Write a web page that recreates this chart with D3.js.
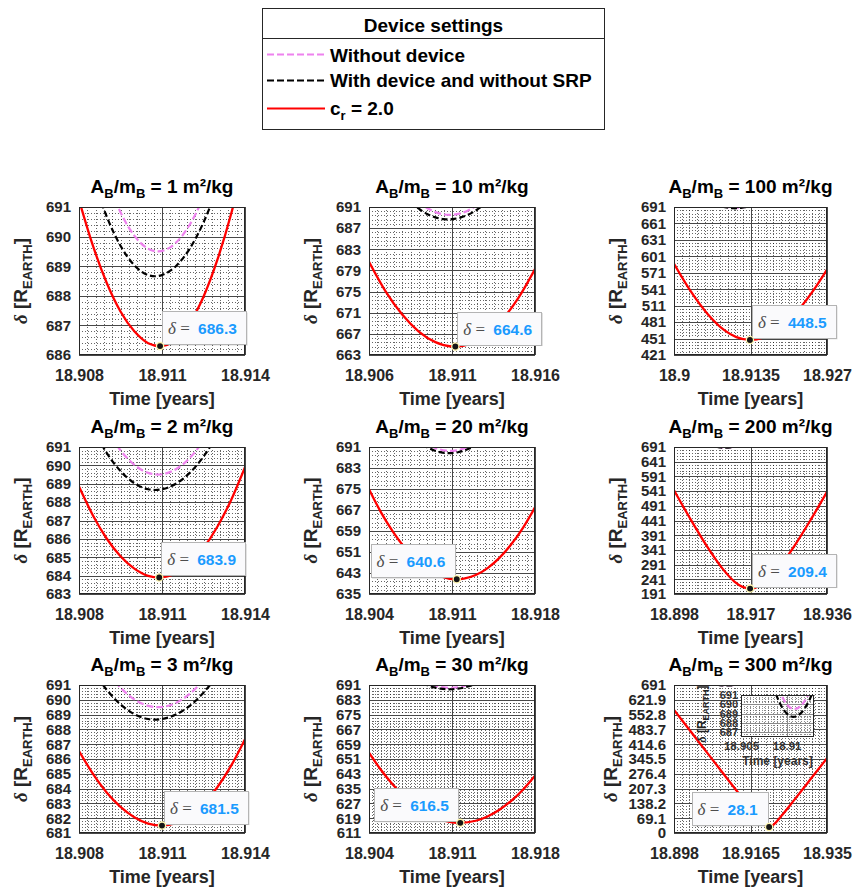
<!DOCTYPE html>
<html><head><meta charset="utf-8">
<script src="https://cdn.jsdelivr.net/npm/d3@7"></script>
<style>
html,body{margin:0;padding:0;background:#fff;}
svg{display:block;font-family:"Liberation Sans",Arial,Helvetica,sans-serif;}
text{white-space:pre;}
</style></head><body>
<svg id="chart" width="854" height="888"></svg>
<script>
// ---------------- DATA ----------------
const ratios = [1, 10, 100, 2, 20, 200, 3, 30, 300];
const seriesNames = ["Without device", "With device and without SRP", "c_r = 2.0"];

const xTicks = [
  [18.908, 18.911, 18.914],
  [18.906, 18.911, 18.916],
  [18.9, 18.9135, 18.927],
  [18.908, 18.911, 18.914],
  [18.904, 18.911, 18.918],
  [18.898, 18.917, 18.936],
  [18.908, 18.911, 18.914],
  [18.904, 18.911, 18.918],
  [18.898, 18.9165, 18.935]
];
const yTicks = [
  [686, 687, 688, 689, 690, 691],
  [663, 667, 671, 675, 679, 683, 687, 691],
  [421, 451, 481, 511, 541, 571, 601, 631, 661, 691],
  [683, 684, 685, 686, 687, 688, 689, 690, 691],
  [635, 643, 651, 659, 667, 675, 683, 691],
  [191, 241, 291, 341, 391, 441, 491, 541, 591, 641, 691],
  [681, 682, 683, 684, 685, 686, 687, 688, 689, 690, 691],
  [611, 619, 627, 635, 643, 651, 659, 667, 675, 683, 691],
  [0, 69.1, 138.2, 207.3, 276.4, 345.5, 414.6, 483.7, 552.8, 621.9, 691]
];

// "Without device" (same trajectory in every panel)
const noDeviceTimes  = [18.9085, 18.909, 18.9095, 18.910, 18.9105, 18.91086, 18.9115, 18.912, 18.9125, 18.913];
const noDeviceValues = [693.49, 691.97, 690.82, 690.03, 689.59, 689.50, 689.79, 690.40, 691.35, 692.65];
// "With device and without SRP"
const noSrpTimes  = [18.9085, 18.909, 18.9095, 18.910, 18.9105, 18.91075, 18.911, 18.9115, 18.912, 18.9125, 18.913, 18.9135];
const noSrpValues = [692.01, 690.68, 689.69, 689.03, 688.70, 688.66, 688.70, 689.00, 689.59, 690.48, 691.67, 693.15];

// c_r = 2.0 curves, one per panel
const srpTimes = [
  [18.908, 18.9085, 18.909, 18.9095, 18.910, 18.9105, 18.91093, 18.9115, 18.912, 18.9125, 18.913, 18.9135, 18.914],
  [18.906, 18.907, 18.908, 18.909, 18.910, 18.9105, 18.9112, 18.912, 18.913, 18.914, 18.915, 18.916],
  [18.900, 18.903, 18.906, 18.909, 18.911, 18.9134, 18.916, 18.919, 18.922, 18.925, 18.927],
  [18.908, 18.9085, 18.909, 18.9095, 18.910, 18.9105, 18.9109, 18.9115, 18.912, 18.9125, 18.913, 18.9135, 18.914],
  [18.904, 18.905, 18.906, 18.907, 18.908, 18.909, 18.910, 18.9114, 18.912, 18.913, 18.914, 18.915, 18.916, 18.917, 18.918],
  [18.898, 18.902, 18.906, 18.910, 18.913, 18.915, 18.9169, 18.919, 18.921, 18.924, 18.928, 18.932, 18.936],
  [18.908, 18.9085, 18.909, 18.9095, 18.910, 18.9105, 18.911, 18.9115, 18.912, 18.9125, 18.913, 18.9135, 18.914],
  [18.904, 18.905, 18.906, 18.907, 18.908, 18.909, 18.910, 18.911, 18.9117, 18.913, 18.914, 18.915, 18.916, 18.917, 18.918],
  [18.898, 18.902, 18.906, 18.910, 18.914, 18.917, 18.919, 18.920, 18.921, 18.922, 18.924, 18.927, 18.931, 18.935]
];
const srpValues = [
  [691.24, 689.70, 688.44, 687.47, 686.80, 686.40, 686.30, 686.52, 687.08, 687.97, 689.21, 690.77, 692.67],
  [680.65, 675.05, 670.65, 667.44, 665.43, 664.88, 664.60, 665.02, 666.69, 669.62, 673.80, 679.26],
  [587.6, 536.6, 495.1, 465.5, 453.6, 448.5, 453.8, 472.7, 503.7, 544.7, 576.6],
  [688.85, 687.29, 686.02, 685.05, 684.38, 683.99, 683.90, 684.13, 684.65, 685.50, 686.66, 688.12, 689.90],
  [674.9, 666.2, 658.87, 652.7, 647.84, 644.2, 641.83, 640.6, 640.83, 642.21, 644.87, 648.75, 653.93, 660.3, 668.0],
  [544.0, 447.7, 357.1, 278.1, 233.4, 215.3, 209.4, 216.5, 235.1, 279.2, 356.4, 444.6, 538.3],
  [686.54, 685.01, 683.74, 682.77, 682.07, 681.64, 681.50, 681.66, 682.14, 682.95, 684.09, 685.55, 687.34],
  [654.4, 645.16, 637.24, 630.56, 625.21, 621.1, 618.31, 616.79, 616.5, 617.62, 619.95, 623.53, 628.42, 634.54, 642.0],
  [574.5, 474.8, 375.2, 275.5, 176.4, 103.1, 56.7, 37.1, 28.1, 38.0, 80.3, 152.3, 250.6, 349.4]
];
// data tips (minimum of the c_r = 2.0 curve)
const minTimes  = [18.91093, 18.9112, 18.9134, 18.9109, 18.9114, 18.9169, 18.911, 18.9117, 18.921];
const minValues = [686.3, 664.6, 448.5, 683.9, 640.6, 209.4, 681.5, 616.5, 28.1];

// inset of the 300 m²/kg panel
const insetXTicks = [18.905, 18.91];
const insetYTicks = [687, 688, 689, 690, 691];

// ---------------- LAYOUT / STYLE ----------------
const colX = [[79, 245], [369, 535], [674, 827]];
const rowY = [[207, 355], [447, 594], [685, 833]];
const tipSide = ["tr", "tr", "tr", "tr", "tl", "tr", "tr", "tl", "tl"];
const minorXDiv = [10, 10, 10, 10, 10, 10, 10, 20, 10];
const RED = "#ff0000", PINK = "#ee82ee", BLK = "#000000";
const TXT = "#262626";

const svg = d3.select("#chart");
const defs = svg.append("defs");

function minorTicks(t0, majorStep, div, lo, hi) {
  const s = majorStep / div, out = [];
  const kmin = Math.ceil((lo - t0) / s - 1e-6), kmax = Math.floor((hi - t0) / s + 1e-6);
  for (let k = kmin; k <= kmax; k++) {
    if (((k % div) + div) % div !== 0) out.push(t0 + k * s);
  }
  return out;
}
const crisp = v => Math.round(v) + 0.5;

function drawGrid(g, x, y, xt, yt, xDiv, yDiv, majorColor, minorOpacity) {
  const [xa, xb] = x.domain(), [ya, yb] = y.domain();
  const [px0, px1] = x.range(), [py1, py0] = y.range();
  const gm = g.append("g").attr("shape-rendering", "crispEdges");
  minorTicks(yt[0], yt[1] - yt[0], yDiv, ya, yb).forEach(v => {
    gm.append("line").attr("x1", px0).attr("x2", px1).attr("y1", crisp(y(v))).attr("y2", crisp(y(v)))
      .attr("stroke", "#000").attr("stroke-opacity", minorOpacity).attr("stroke-dasharray", "1,2");
  });
  minorTicks(xt[0], xt[1] - xt[0], xDiv, xa, xb).forEach(v => {
    gm.append("line").attr("y1", py0).attr("y2", py1).attr("x1", crisp(x(v))).attr("x2", crisp(x(v)))
      .attr("stroke", "#000").attr("stroke-opacity", minorOpacity).attr("stroke-dasharray", "1,2");
  });
  yt.forEach(v => {
    gm.append("line").attr("x1", px0).attr("x2", px1).attr("y1", crisp(y(v))).attr("y2", crisp(y(v)))
      .attr("stroke", majorColor);
  });
  xt.forEach(v => {
    gm.append("line").attr("y1", py0).attr("y2", py1).attr("x1", crisp(x(v))).attr("x2", crisp(x(v)))
      .attr("stroke", majorColor);
  });
}

function lineFor(x, y) {
  return d3.line().x(d => x(d[0])).y(d => y(d[1])).curve(d3.curveMonotoneX);
}

function yLabel(g, cx, cy, size, subSize, shift) {
  const t = g.append("text").attr("transform", `translate(${cx},${cy}) rotate(-90)`)
    .attr("text-anchor", "middle").attr("font-size", size).attr("font-weight", "bold").attr("fill", TXT);
  t.append("tspan").attr("font-family", '"Liberation Serif",serif').attr("font-style", "italic").text("δ");
  t.append("tspan").text(" [R");
  t.append("tspan").attr("font-size", subSize).attr("dy", shift).text("EARTH");
  t.append("tspan").attr("dy", -shift).text("]");
}

ratios.forEach((ratio, i) => {
  const col = i % 3, row = Math.floor(i / 3);
  const [x0, x1] = colX[col], [y0, y1] = rowY[row];
  const xt = xTicks[i], yt = yTicks[i];
  const x = d3.scaleLinear().domain([xt[0], xt[xt.length - 1]]).range([x0, x1]);
  const y = d3.scaleLinear().domain([yt[0], yt[yt.length - 1]]).range([y1, y0]);
  const g = svg.append("g");

  defs.append("clipPath").attr("id", "clip" + i).append("rect")
    .attr("x", x0).attr("y", y0).attr("width", x1 - x0).attr("height", y1 - y0);

  g.append("rect").attr("x", x0).attr("y", y0).attr("width", x1 - x0).attr("height", y1 - y0).attr("fill", "#fff");
  drawGrid(g, x, y, xt, yt, minorXDiv[i], 5, "#484848", 0.6);

  const curves = g.append("g").attr("clip-path", `url(#clip${i})`);
  const ln = lineFor(x, y);
  curves.append("path").datum(d3.zip(noDeviceTimes, noDeviceValues)).attr("d", ln)
    .attr("fill", "none").attr("stroke", PINK).attr("stroke-width", 2.2).attr("stroke-dasharray", "7,3");
  curves.append("path").datum(d3.zip(noSrpTimes, noSrpValues)).attr("d", ln)
    .attr("fill", "none").attr("stroke", BLK).attr("stroke-width", 2.2).attr("stroke-dasharray", "6,3");
  curves.append("path").datum(d3.zip(srpTimes[i], srpValues[i])).attr("d", ln)
    .attr("fill", "none").attr("stroke", RED).attr("stroke-width", 2.3);

  // box
  g.append("rect").attr("x", x0 + 0.5).attr("y", y0 + 0.5).attr("width", x1 - x0 - 1).attr("height", y1 - y0 - 1)
    .attr("fill", "none").attr("stroke", TXT).attr("shape-rendering", "crispEdges");

  // axes
  const xa = d3.axisBottom(x).tickValues(xt).tickSize(0).tickPadding(14.5).tickFormat(d => String(d));
  g.append("g").attr("transform", `translate(0,${y1})`).call(xa).call(s => {
    s.select(".domain").remove();
    s.selectAll("text").attr("font-size", 16).attr("font-weight", "bold").attr("fill", TXT)
      .attr("font-family", '"Liberation Sans",Arial,sans-serif');
  });
  const ya = d3.axisLeft(y).tickValues(yt).tickSize(0).tickPadding(8).tickFormat(d => String(d));
  g.append("g").attr("transform", `translate(${x0},0)`).call(ya).call(s => {
    s.select(".domain").remove();
    s.selectAll("text").attr("font-size", 15).attr("font-weight", "bold").attr("fill", TXT)
      .attr("font-family", '"Liberation Sans",Arial,sans-serif');
  });

  // title
  const tt = g.append("text").attr("x", (x0 + x1) / 2).attr("y", y0 - 14).attr("text-anchor", "middle")
    .attr("font-size", 19).attr("font-weight", "bold").attr("fill", "#000");
  tt.append("tspan").text("A");
  tt.append("tspan").attr("font-size", 13).attr("dy", 5).text("B");
  tt.append("tspan").attr("dy", -5).text("/m");
  tt.append("tspan").attr("font-size", 13).attr("dy", 5).text("B");
  tt.append("tspan").attr("dy", -5).text(` = ${ratio} m²/kg`);

  // axis labels
  g.append("text").attr("x", (x0 + x1) / 2).attr("y", y1 + 50).attr("text-anchor", "middle")
    .attr("font-size", 18).attr("font-weight", "bold").attr("fill", TXT).text("Time [years]");
  yLabel(g, x0 - (i === 8 ? 57 : 52), (y0 + y1) / 2, 19, 13, 5);

  // inset in the last panel
  if (i === 8) {
    const ix0 = 741, ix1 = 814, iy0 = 695, iy1 = 737;
    const ixs = d3.scaleLinear().domain([18.905, 18.913]).range([ix0, ix1]);
    const iys = d3.scaleLinear().domain([686.5, 691]).range([iy1, iy0]);
    const ig = g.append("g");
    defs.append("clipPath").attr("id", "clipInset").append("rect")
      .attr("x", ix0).attr("y", iy0).attr("width", ix1 - ix0).attr("height", iy1 - iy0);
    ig.append("rect").attr("x", ix0).attr("y", iy0).attr("width", ix1 - ix0).attr("height", iy1 - iy0).attr("fill", "#fff");
    drawGrid(ig, ixs, iys, insetXTicks, insetYTicks, 10, 5, "#8a8a8a", 0.45);
    const ic = ig.append("g").attr("clip-path", "url(#clipInset)");
    const iln = lineFor(ixs, iys);
    ic.append("path").datum(d3.zip(noDeviceTimes, noDeviceValues)).attr("d", iln)
      .attr("fill", "none").attr("stroke", PINK).attr("stroke-width", 2.2).attr("stroke-dasharray", "6,3");
    ic.append("path").datum(d3.zip(noSrpTimes, noSrpValues)).attr("d", iln)
      .attr("fill", "none").attr("stroke", BLK).attr("stroke-width", 2.2).attr("stroke-dasharray", "6,3");
    ig.append("rect").attr("x", ix0 + 0.5).attr("y", iy0 + 0.5).attr("width", ix1 - ix0 - 1).attr("height", iy1 - iy0 - 1)
      .attr("fill", "none").attr("stroke", TXT).attr("shape-rendering", "crispEdges");
    ig.append("g").attr("transform", `translate(0,${iy1})`)
      .call(d3.axisBottom(ixs).tickValues(insetXTicks).tickSize(0).tickPadding(5).tickFormat(d => String(d)))
      .call(s => { s.select(".domain").remove();
        s.selectAll("text").attr("font-size", 11.5).attr("font-weight", "bold").attr("fill", "#333")
          .attr("font-family", '"Liberation Sans",Arial,sans-serif'); });
    ig.append("g").attr("transform", `translate(${ix0},0)`)
      .call(d3.axisLeft(iys).tickValues(insetYTicks).tickSize(0).tickPadding(3).tickFormat(d => String(d)))
      .call(s => { s.select(".domain").remove();
        s.selectAll("text").attr("font-size", 11).attr("font-weight", "bold").attr("fill", "#333")
          .attr("font-family", '"Liberation Sans",Arial,sans-serif'); });
    ig.append("text").attr("x", (ix0 + ix1) / 2).attr("y", iy1 + 28).attr("text-anchor", "middle")
      .attr("font-size", 12).attr("font-weight", "bold").attr("fill", "#333").text("Time [years]");
    yLabel(ig, ix0 - 35, (iy0 + iy1) / 2 - 2, 12, 9, 3);
  }

  // data tip
  const px = x(minTimes[i]), py = y(minValues[i]);
  const tg = g.append("g");
  const shadow = tg.append("rect");
  const box = tg.append("rect");
  const txt = tg.append("text").attr("font-size", 15.5);
  txt.append("tspan").attr("font-family", '"Liberation Serif",serif').attr("font-style", "italic")
    .attr("font-size", 17).attr("fill", "#4d4d4d").text("δ");
  txt.append("tspan").attr("font-family", '"Liberation Serif",serif').attr("font-size", 17)
    .attr("fill", "#4d4d4d").text(" = ");
  txt.append("tspan").attr("dx", 4).attr("font-weight", "bold").attr("fill", "#1a9bff")
    .text(minValues[i].toFixed(1));
  const bw = txt.node().getBBox().width + 15, bh = 33;
  const bx = tipSide[i] === "tr" ? px + 2 : px - 2 - bw;
  const by = py - 2 - bh;
  shadow.attr("x", bx + 1.5).attr("y", by + 1.5).attr("width", bw).attr("height", bh).attr("fill", "rgba(0,0,0,0.12)");
  box.attr("x", Math.round(bx) + 0.5).attr("y", Math.round(by) + 0.5).attr("width", Math.round(bw)).attr("height", bh)
    .attr("fill", "#fafafc").attr("stroke", "#b4b4b4");
  txt.attr("x", bx + 6).attr("y", by + 23);
  tg.append("circle").attr("cx", px).attr("cy", py).attr("r", 3.6)
    .attr("fill", "#151515").attr("stroke", "#fff6b0").attr("stroke-width", 1.3);
});

// ---------------- LEGEND ----------------
const leg = svg.append("g");
leg.append("rect").attr("x", 262.5).attr("y", 8.5).attr("width", 342).attr("height", 121)
  .attr("fill", "#fff").attr("stroke", TXT);
leg.append("text").attr("x", 433.5).attr("y", 31.5).attr("text-anchor", "middle")
  .attr("font-size", 19).attr("font-weight", "bold").attr("fill", "#000").text("Device settings");
leg.append("line").attr("x1", 262.5).attr("x2", 604.5).attr("y1", 38.5).attr("y2", 38.5).attr("stroke", TXT);
const legStyles = [
  { color: PINK, dash: "7,3", y: 54.5, base: 61.5 },
  { color: BLK, dash: "7,3", y: 80.5, base: 87 },
  { color: RED, dash: null, y: 108.5, base: 115 }
];
seriesNames.forEach((name, k) => {
  const st = legStyles[k];
  leg.append("line").attr("x1", 267).attr("x2", 325).attr("y1", st.y).attr("y2", st.y)
    .attr("stroke", st.color).attr("stroke-width", 2.2).attr("stroke-dasharray", st.dash);
  const t = leg.append("text").attr("x", 330).attr("y", st.base).attr("font-size", 19)
    .attr("font-weight", "bold").attr("fill", "#000");
  if (name.includes("_")) {
    const [a, rest] = name.split("_");
    t.append("tspan").text(a);
    t.append("tspan").attr("font-size", 13).attr("dy", 5).text(rest.charAt(0));
    t.append("tspan").attr("dy", -5).text(rest.slice(1));
  } else {
    t.text(name);
  }
});
</script>
</body></html>
